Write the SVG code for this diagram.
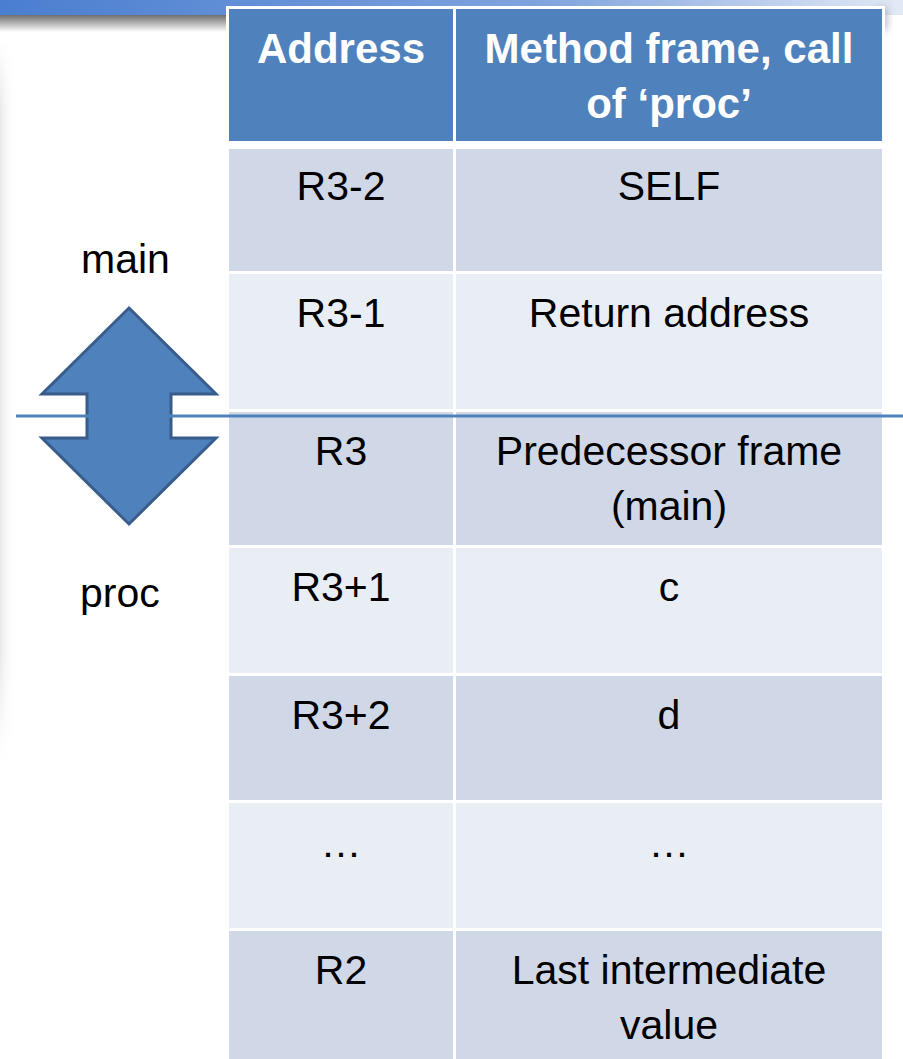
<svg xmlns="http://www.w3.org/2000/svg" width="903" height="1059" viewBox="0 0 903 1059">
<style>
.hdr{fill:#4f81bd}
.dk{fill:#d0d8e8}
.lt{fill:#e9edf4}
.th{font-family:"Liberation Sans",Arial,sans-serif;font-weight:bold;font-size:42px;fill:#ffffff;text-anchor:middle}
.td{font-family:"Liberation Sans",Arial,sans-serif;font-size:41px;fill:#000000;text-anchor:middle}
.lbl{font-family:"Liberation Sans",Arial,sans-serif;font-size:41px;fill:#000000}
</style>
<defs>
<linearGradient id="band" x1="0" y1="0" x2="1" y2="0">
<stop offset="0" stop-color="#4a7ed0"/>
<stop offset="0.6" stop-color="#7fa3dd"/>
<stop offset="1" stop-color="#e2e9f6"/>
</linearGradient>
<linearGradient id="shad" x1="0" y1="0" x2="0" y2="1">
<stop offset="0" stop-color="#6f6f6f"/>
<stop offset="1" stop-color="#ffffff"/>
</linearGradient>
<linearGradient id="lshad" x1="0" y1="0" x2="1" y2="0">
<stop offset="0" stop-color="#e8e8e8"/>
<stop offset="1" stop-color="#ffffff" stop-opacity="0"/>
</linearGradient>
<linearGradient id="lfade" x1="0" y1="0" x2="0" y2="1">
<stop offset="0" stop-color="#fff" stop-opacity="0"/>
<stop offset="0.1" stop-color="#fff" stop-opacity="1"/>
<stop offset="0.85" stop-color="#fff" stop-opacity="1"/>
<stop offset="1" stop-color="#fff" stop-opacity="0"/>
</linearGradient>
<mask id="lmask"><rect x="0" y="40" width="20" height="720" fill="url(#lfade)"/></mask>
<filter id="blur" x="-50%" y="-50%" width="200%" height="200%"><feGaussianBlur stdDeviation="4"/></filter>
</defs>
<rect width="903" height="1059" fill="#ffffff"/>
<g id="background">
<rect x="0" y="0" width="903" height="15" fill="url(#band)"/>
<rect x="0" y="15" width="226" height="17" fill="url(#shad)"/>
<rect x="0" y="40" width="16" height="720" fill="url(#lshad)" mask="url(#lmask)"/>
<rect x="875" y="8" width="12" height="22" fill="#9a9a9a" filter="url(#blur)" opacity="0.7"/>
</g>
<g id="table">
<rect x="226" y="6" width="659" height="1053" fill="#ffffff"/>
<g id="header">
<rect class="hdr" x="229" y="9" width="224" height="132"/>
<rect class="hdr" x="456" y="9" width="426" height="132"/>
<text class="th" x="341" y="63">Address</text>
<text class="th" x="669" y="63">Method frame, call</text>
<text class="th" x="669" y="118">of ‘proc’</text>
</g>
<g id="row-r3m2">
<rect class="dk" x="229" y="149" width="224" height="122"/>
<rect class="dk" x="456" y="149" width="426" height="122"/>
<text class="td" x="341" y="200">R3-2</text>
<text class="td" x="669" y="200">SELF</text>
</g>
<g id="row-r3m1">
<rect class="lt" x="229" y="274" width="224" height="135"/>
<rect class="lt" x="456" y="274" width="426" height="135"/>
<text class="td" x="341" y="327">R3-1</text>
<text class="td" x="669" y="327">Return address</text>
</g>
<g id="row-r3">
<rect class="dk" x="229" y="412" width="224" height="133"/>
<rect class="dk" x="456" y="412" width="426" height="133"/>
<text class="td" x="341" y="465">R3</text>
<text class="td" x="669" y="465">Predecessor frame</text>
<text class="td" x="669" y="520">(main)</text>
</g>
<g id="row-r3p1">
<rect class="lt" x="229" y="548" width="224" height="125"/>
<rect class="lt" x="456" y="548" width="426" height="125"/>
<text class="td" x="341" y="601">R3+1</text>
<text class="td" x="669" y="601">c</text>
</g>
<g id="row-r3p2">
<rect class="dk" x="229" y="676" width="224" height="124"/>
<rect class="dk" x="456" y="676" width="426" height="124"/>
<text class="td" x="341" y="729">R3+2</text>
<text class="td" x="669" y="729">d</text>
</g>
<g id="row-dots">
<rect class="lt" x="229" y="803" width="224" height="125"/>
<rect class="lt" x="456" y="803" width="426" height="125"/>
<text class="td" x="341" y="857">…</text>
<text class="td" x="669" y="857">…</text>
</g>
<g id="row-r2">
<rect class="dk" x="229" y="931" width="224" height="128"/>
<rect class="dk" x="456" y="931" width="426" height="128"/>
<text class="td" x="341" y="984">R2</text>
<text class="td" x="669" y="984">Last intermediate</text>
<text class="td" x="669" y="1039">value</text>
</g>
</g>
<g id="arrow">
<path d="M129,308 L216,394 L171,394 L171,438 L216,438 L129,524 L42,438 L87,438 L87,394 L42,394 Z" fill="#4f81bd" stroke="#385d8a" stroke-width="3" stroke-linejoin="miter"/>
</g>
<g id="label-main"><text class="lbl" x="81" y="273">main</text></g>
<g id="label-proc"><text class="lbl" x="80" y="607">proc</text></g>
<g id="connectors">
<line x1="16" y1="416" x2="903" y2="416" stroke="#4f81bd" stroke-width="3"/>
</g>
</svg>
